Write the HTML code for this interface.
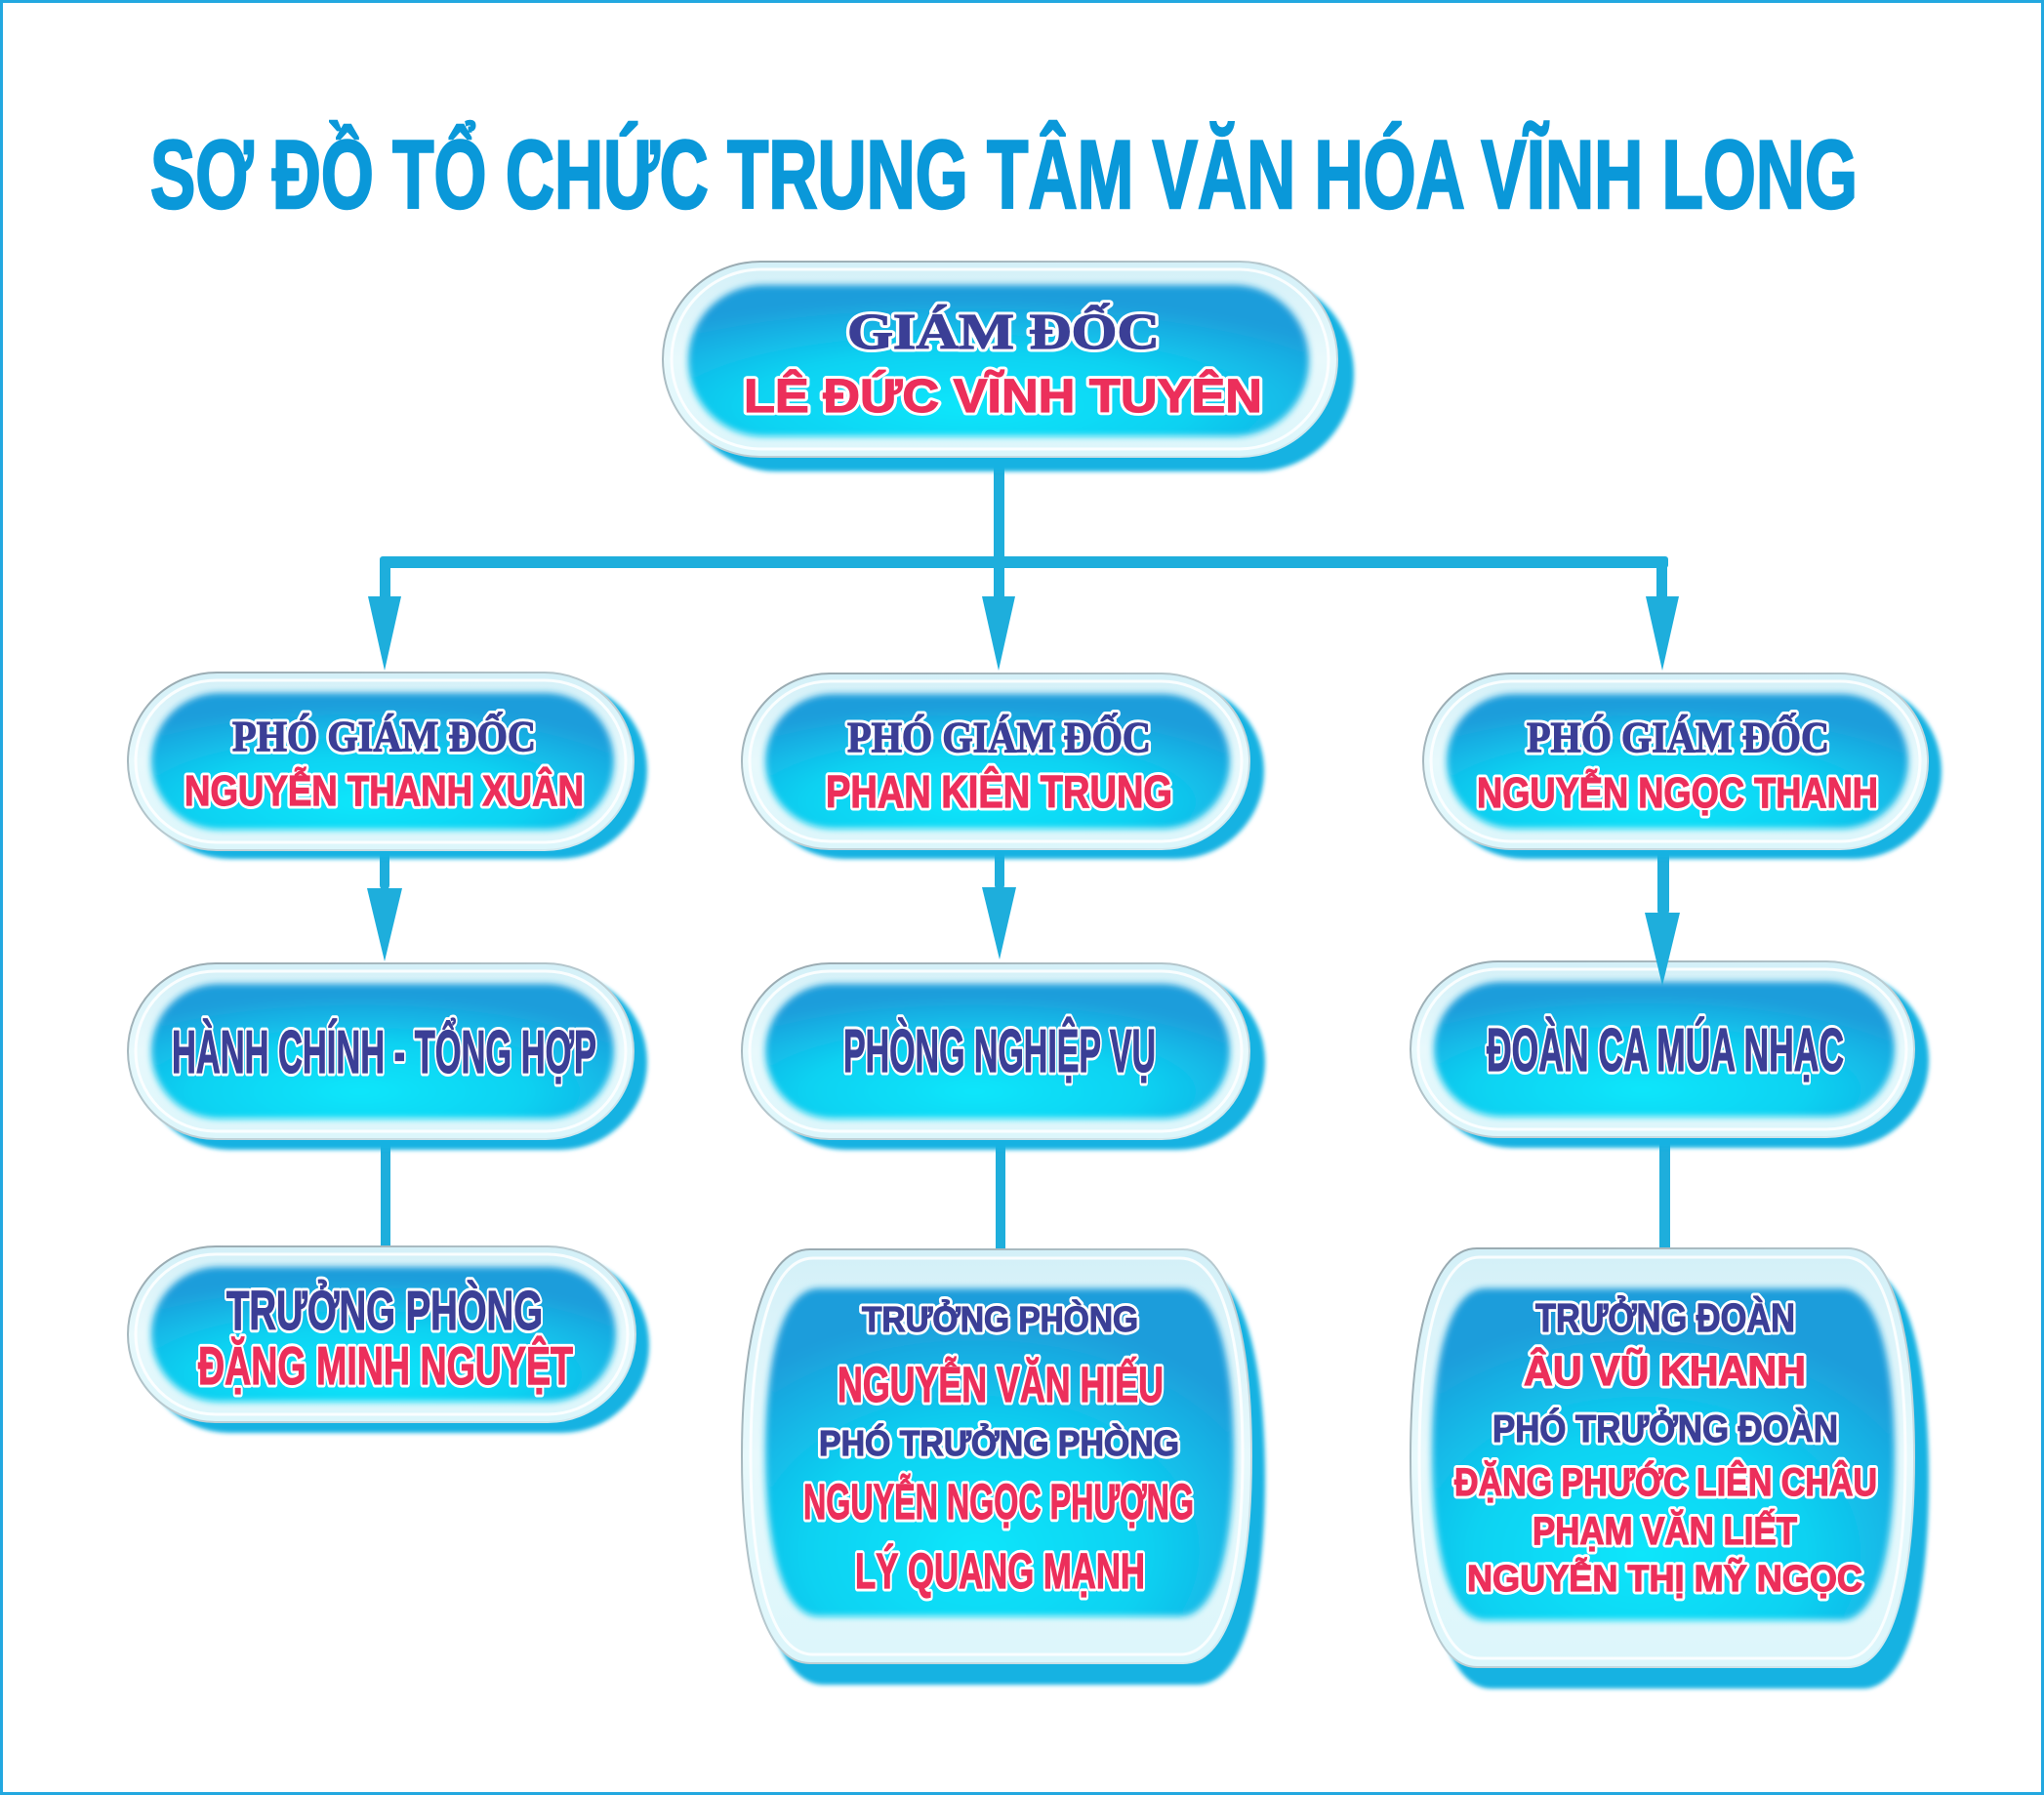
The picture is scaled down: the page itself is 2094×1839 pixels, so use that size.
<!DOCTYPE html>
<html><head><meta charset="utf-8">
<style>
html,body{margin:0;padding:0;background:#fff;}
svg{display:block;}
.t{font-family:"Liberation Sans",Arial,sans-serif;font-weight:bold;}
.s{font-family:"Liberation Serif","Times New Roman",serif;font-weight:bold;}
.n{fill:#3b3f96;stroke:#3b3f96;stroke-width:1.2;}
.r{fill:#ec2f5b;stroke:#ec2f5b;stroke-width:1.2;}
.o{fill:#fff;stroke:#fff;stroke-width:7;stroke-linejoin:round;}
.sh{fill:#17b2e2;filter:url(#b2);}
.rim{fill:url(#rg);stroke:url(#rs);stroke-width:2;}
.ring{fill:none;stroke:#ffffff;stroke-width:3;opacity:.85;}
.inn{fill:url(#ig);filter:url(#b3);}
.c{fill:#1eaedc;}
</style></head>
<body>
<svg width="2094" height="1839" viewBox="0 0 2094 1839" xmlns="http://www.w3.org/2000/svg">
<defs>
<radialGradient id="ig" cx="0.45" cy="0.8" r="0.72">
<stop offset="0" stop-color="#08e6fb"/>
<stop offset="0.5" stop-color="#0cd2f2"/>
<stop offset="1" stop-color="#1d9ddb"/>
</radialGradient>
<linearGradient id="rg" x1="0" y1="0" x2="0" y2="1">
<stop offset="0" stop-color="#d3f0f8"/>
<stop offset="0.5" stop-color="#e8f9fc"/>
<stop offset="1" stop-color="#dcf6fb"/>
</linearGradient>
<linearGradient id="rs" x1="0" y1="0" x2="1" y2="1">
<stop offset="0" stop-color="#95a6ad"/>
<stop offset="0.5" stop-color="#b8cad0"/>
<stop offset="1" stop-color="#d6eef5"/>
</linearGradient>
<filter id="b2" x="-5%" y="-5%" width="110%" height="110%"><feGaussianBlur stdDeviation="2"/></filter>
<filter id="b3" x="-5%" y="-5%" width="110%" height="110%"><feGaussianBlur stdDeviation="3.5"/></filter>
</defs>

<rect x="1.5" y="1.5" width="2091" height="1836" fill="#fff" stroke="#22a8e0" stroke-width="3"/>

<!-- Title -->
<text class="t" x="154" y="213" font-size="99" fill="#0a98d9" stroke="#0a98d9" stroke-width="2.5" textLength="1749" lengthAdjust="spacingAndGlyphs">SƠ ĐỒ TỔ CHỨC TRUNG TÂM VĂN HÓA VĨNH LONG</text>

<!-- connectors (behind boxes) -->
<rect class="c" x="1018" y="440" width="11" height="136"/>
<rect class="c" x="389" y="570" width="1320" height="12" rx="3"/>
<rect class="c" x="389" y="576" width="11" height="38"/>
<rect class="c" x="1018" y="576" width="11" height="38"/>
<rect class="c" x="1697" y="576" width="11" height="38"/>
<rect class="c" x="389" y="840" width="10" height="72" rx="5"/>
<rect class="c" x="1019" y="840" width="10" height="72" rx="5"/>
<rect class="c" x="1698" y="840" width="12" height="98" rx="5"/>
<rect class="c" x="390" y="1140" width="10" height="142" rx="5"/>
<rect class="c" x="1020" y="1140" width="10" height="145" rx="5"/>
<rect class="c" x="1700" y="1140" width="11" height="145" rx="5"/>

<!-- Director -->
<rect class="sh" x="696" y="283" width="691" height="200" rx="100"/>
<rect class="rim" x="679" y="268" width="691" height="200" rx="100"/>
<rect class="ring" x="688" y="276" width="673" height="184" rx="92"/>
<rect class="inn" x="705" y="292" width="636" height="155" rx="77"/>
<g class="s" font-size="52"><text class="o" x="868" y="357" textLength="320" lengthAdjust="spacingAndGlyphs">GIÁM ĐỐC</text><text class="n" x="868" y="357" textLength="320" lengthAdjust="spacingAndGlyphs">GIÁM ĐỐC</text></g>
<g class="t" font-size="48"><text class="o" x="762" y="422" textLength="531" lengthAdjust="spacingAndGlyphs">LÊ ĐỨC VĨNH TUYÊN</text><text class="r" x="762" y="422" textLength="531" lengthAdjust="spacingAndGlyphs">LÊ ĐỨC VĨNH TUYÊN</text></g>

<!-- Row 2 -->
<rect class="sh" x="145" y="698" width="518" height="182" rx="91"/>
<rect class="rim" x="131" y="689" width="518" height="182" rx="91"/>
<rect class="ring" x="139" y="697" width="502" height="166" rx="83"/>
<rect class="inn" x="155" y="710" width="474" height="140" rx="70"/>
<g class="s" font-size="44"><text class="o" x="238" y="769" textLength="311" lengthAdjust="spacingAndGlyphs">PHÓ GIÁM ĐỐC</text><text class="n" x="238" y="769" textLength="311" lengthAdjust="spacingAndGlyphs">PHÓ GIÁM ĐỐC</text></g>
<g class="t" font-size="44"><text class="o" x="189" y="825" textLength="409" lengthAdjust="spacingAndGlyphs">NGUYỄN THANH XUÂN</text><text class="r" x="189" y="825" textLength="409" lengthAdjust="spacingAndGlyphs">NGUYỄN THANH XUÂN</text></g>

<rect class="sh" x="775" y="700" width="520" height="180" rx="90"/>
<rect class="rim" x="760" y="690" width="520" height="180" rx="90"/>
<rect class="ring" x="768" y="698" width="504" height="164" rx="82"/>
<rect class="inn" x="784" y="711" width="476" height="138" rx="69"/>
<g class="s" font-size="44"><text class="o" x="868" y="770" textLength="311" lengthAdjust="spacingAndGlyphs">PHÓ GIÁM ĐỐC</text><text class="n" x="868" y="770" textLength="311" lengthAdjust="spacingAndGlyphs">PHÓ GIÁM ĐỐC</text></g>
<g class="t" font-size="46"><text class="o" x="846" y="827" textLength="355" lengthAdjust="spacingAndGlyphs">PHAN KIÊN TRUNG</text><text class="r" x="846" y="827" textLength="355" lengthAdjust="spacingAndGlyphs">PHAN KIÊN TRUNG</text></g>

<rect class="sh" x="1472" y="700" width="517" height="180" rx="90"/>
<rect class="rim" x="1458" y="690" width="517" height="180" rx="90"/>
<rect class="ring" x="1466" y="698" width="501" height="164" rx="82"/>
<rect class="inn" x="1482" y="711" width="473" height="138" rx="69"/>
<g class="s" font-size="44"><text class="o" x="1564" y="770" textLength="310" lengthAdjust="spacingAndGlyphs">PHÓ GIÁM ĐỐC</text><text class="n" x="1564" y="770" textLength="310" lengthAdjust="spacingAndGlyphs">PHÓ GIÁM ĐỐC</text></g>
<g class="t" font-size="44"><text class="o" x="1513" y="827" textLength="411" lengthAdjust="spacingAndGlyphs">NGUYỄN NGỌC THANH</text><text class="r" x="1513" y="827" textLength="411" lengthAdjust="spacingAndGlyphs">NGUYỄN NGỌC THANH</text></g>

<!-- Row 3 -->
<rect class="sh" x="145" y="998" width="518" height="180" rx="90"/>
<rect class="rim" x="131" y="987" width="518" height="180" rx="90"/>
<rect class="ring" x="139" y="995" width="502" height="164" rx="82"/>
<rect class="inn" x="155" y="1008" width="474" height="138" rx="69"/>
<g class="t" font-size="62"><text class="o" x="176" y="1099" textLength="435" lengthAdjust="spacingAndGlyphs">HÀNH CHÍNH - TỔNG HỢP</text><text class="n" x="176" y="1099" textLength="435" lengthAdjust="spacingAndGlyphs">HÀNH CHÍNH - TỔNG HỢP</text></g>

<rect class="sh" x="776" y="998" width="520" height="180" rx="90"/>
<rect class="rim" x="760" y="987" width="520" height="180" rx="90"/>
<rect class="ring" x="768" y="995" width="504" height="164" rx="82"/>
<rect class="inn" x="784" y="1008" width="476" height="138" rx="69"/>
<g class="t" font-size="62"><text class="o" x="864" y="1098" textLength="320" lengthAdjust="spacingAndGlyphs">PHÒNG NGHIỆP VỤ</text><text class="n" x="864" y="1098" textLength="320" lengthAdjust="spacingAndGlyphs">PHÒNG NGHIỆP VỤ</text></g>

<rect class="sh" x="1460" y="996" width="516" height="180" rx="90"/>
<rect class="rim" x="1445" y="985" width="516" height="180" rx="90"/>
<rect class="ring" x="1453" y="993" width="500" height="164" rx="82"/>
<rect class="inn" x="1469" y="1006" width="472" height="138" rx="69"/>
<g class="t" font-size="62"><text class="o" x="1523" y="1097" textLength="366" lengthAdjust="spacingAndGlyphs">ĐOÀN CA MÚA NHẠC</text><text class="n" x="1523" y="1097" textLength="366" lengthAdjust="spacingAndGlyphs">ĐOÀN CA MÚA NHẠC</text></g>

<!-- Row 4 left -->
<rect class="sh" x="145" y="1288" width="520" height="180" rx="90"/>
<rect class="rim" x="131" y="1277" width="520" height="180" rx="90"/>
<rect class="ring" x="139" y="1285" width="504" height="164" rx="82"/>
<rect class="inn" x="155" y="1298" width="476" height="138" rx="69"/>
<g class="t" font-size="57"><text class="o" x="232" y="1362" textLength="324" lengthAdjust="spacingAndGlyphs">TRƯỞNG PHÒNG</text><text class="n" x="232" y="1362" textLength="324" lengthAdjust="spacingAndGlyphs">TRƯỞNG PHÒNG</text></g>
<g class="t" font-size="55"><text class="o" x="203" y="1418" textLength="384" lengthAdjust="spacingAndGlyphs">ĐẶNG MINH NGUYỆT</text><text class="r" x="203" y="1418" textLength="384" lengthAdjust="spacingAndGlyphs">ĐẶNG MINH NGUYỆT</text></g>

<!-- Row 4 middle (barrel) -->
<path class="sh" transform="translate(14,22)" d="M 830,1280 H 1212 C 1264.5,1280 1282,1386 1282,1492 C 1282,1598 1264.5,1704 1212,1704 H 830 C 777.5,1704 760,1598 760,1492 C 760,1386 777.5,1280 830,1280 Z"/>
<path class="rim" d="M 830,1280 H 1212 C 1264.5,1280 1282,1386 1282,1492 C 1282,1598 1264.5,1704 1212,1704 H 830 C 777.5,1704 760,1598 760,1492 C 760,1386 777.5,1280 830,1280 Z"/>
<path class="ring" d="M 833,1289 H 1209 C 1257,1289 1273,1390.5 1273,1492 C 1273,1593.5 1257,1695 1209,1695 H 833 C 785,1695 769,1593.5 769,1492 C 769,1390.5 785,1289 833,1289 Z"/>
<path class="inn" d="M 839,1320 H 1209 C 1250,1320 1264,1404 1264,1488 C 1264,1572 1250,1656 1209,1656 H 839 C 798,1656 784,1572 784,1488 C 784,1404 798,1320 839,1320 Z"/>
<g class="t" font-size="36"><text class="o" x="883" y="1364" textLength="283" lengthAdjust="spacingAndGlyphs">TRƯỞNG PHÒNG</text><text class="n" x="883" y="1364" textLength="283" lengthAdjust="spacingAndGlyphs">TRƯỞNG PHÒNG</text></g>
<g class="t" font-size="51"><text class="o" x="858" y="1436" textLength="334" lengthAdjust="spacingAndGlyphs">NGUYỄN VĂN HIẾU</text><text class="r" x="858" y="1436" textLength="334" lengthAdjust="spacingAndGlyphs">NGUYỄN VĂN HIẾU</text></g>
<g class="t" font-size="36"><text class="o" x="839" y="1491" textLength="369" lengthAdjust="spacingAndGlyphs">PHÓ TRƯỞNG PHÒNG</text><text class="n" x="839" y="1491" textLength="369" lengthAdjust="spacingAndGlyphs">PHÓ TRƯỞNG PHÒNG</text></g>
<g class="t" font-size="51"><text class="o" x="823" y="1556" textLength="400" lengthAdjust="spacingAndGlyphs">NGUYỄN NGỌC PHƯỢNG</text><text class="r" x="823" y="1556" textLength="400" lengthAdjust="spacingAndGlyphs">NGUYỄN NGỌC PHƯỢNG</text></g>
<g class="t" font-size="51"><text class="o" x="876" y="1627" textLength="297" lengthAdjust="spacingAndGlyphs">LÝ QUANG MẠNH</text><text class="r" x="876" y="1627" textLength="297" lengthAdjust="spacingAndGlyphs">LÝ QUANG MẠNH</text></g>

<!-- Row 4 right (barrel) -->
<path class="sh" transform="translate(15,22)" d="M 1513,1279 H 1893 C 1944,1279 1961,1386 1961,1493.5 C 1961,1601 1944,1708 1893,1708 H 1513 C 1462,1708 1445,1601 1445,1493.5 C 1445,1386 1462,1279 1513,1279 Z"/>
<path class="rim" d="M 1513,1279 H 1893 C 1944,1279 1961,1386 1961,1493.5 C 1961,1601 1944,1708 1893,1708 H 1513 C 1462,1708 1445,1601 1445,1493.5 C 1445,1386 1462,1279 1513,1279 Z"/>
<path class="ring" d="M 1516,1288 H 1890 C 1936.5,1288 1952,1391 1952,1493.5 C 1952,1596 1936.5,1699 1890,1699 H 1516 C 1469.5,1699 1454,1596 1454,1493.5 C 1454,1391 1469.5,1288 1516,1288 Z"/>
<path class="inn" d="M 1522,1320 H 1886 C 1927,1320 1941,1405 1941,1490 C 1941,1575 1927,1660 1886,1660 H 1522 C 1481,1660 1467,1575 1467,1490 C 1467,1405 1481,1320 1522,1320 Z"/>
<g class="t" font-size="41"><text class="o" x="1573" y="1364" textLength="266" lengthAdjust="spacingAndGlyphs">TRƯỞNG ĐOÀN</text><text class="n" x="1573" y="1364" textLength="266" lengthAdjust="spacingAndGlyphs">TRƯỞNG ĐOÀN</text></g>
<g class="t" font-size="43"><text class="o" x="1561" y="1419" textLength="289" lengthAdjust="spacingAndGlyphs">ÂU VŨ KHANH</text><text class="r" x="1561" y="1419" textLength="289" lengthAdjust="spacingAndGlyphs">ÂU VŨ KHANH</text></g>
<g class="t" font-size="39"><text class="o" x="1529" y="1477" textLength="354" lengthAdjust="spacingAndGlyphs">PHÓ TRƯỞNG ĐOÀN</text><text class="n" x="1529" y="1477" textLength="354" lengthAdjust="spacingAndGlyphs">PHÓ TRƯỞNG ĐOÀN</text></g>
<g class="t" font-size="40"><text class="o" x="1490" y="1532" textLength="433" lengthAdjust="spacingAndGlyphs">ĐẶNG PHƯỚC LIÊN CHÂU</text><text class="r" x="1490" y="1532" textLength="433" lengthAdjust="spacingAndGlyphs">ĐẶNG PHƯỚC LIÊN CHÂU</text></g>
<g class="t" font-size="40"><text class="o" x="1570" y="1582" textLength="271" lengthAdjust="spacingAndGlyphs">PHẠM VĂN LIẾT</text><text class="r" x="1570" y="1582" textLength="271" lengthAdjust="spacingAndGlyphs">PHẠM VĂN LIẾT</text></g>
<g class="t" font-size="38"><text class="o" x="1503" y="1630" textLength="405" lengthAdjust="spacingAndGlyphs">NGUYỄN THỊ MỸ NGỌC</text><text class="r" x="1503" y="1630" textLength="405" lengthAdjust="spacingAndGlyphs">NGUYỄN THỊ MỸ NGỌC</text></g>

<!-- arrowheads (on top) -->
<polygon class="c" points="377,611 411,611 394,687"/>
<polygon class="c" points="1006,611 1040,611 1023,687"/>
<polygon class="c" points="1686,611 1720,611 1703,687"/>
<polygon class="c" points="376,910 412,910 394,985"/>
<polygon class="c" points="1006,909 1041,909 1024,983"/>
<polygon class="c" points="1685,935 1721,935 1703,1010"/>
</svg>
</body></html>
